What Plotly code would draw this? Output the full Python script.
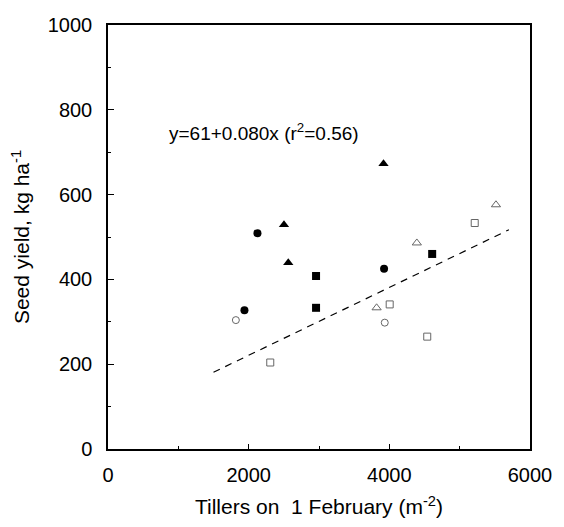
import plotly.graph_objects as go

# Data
filled_tri_x = [3917, 2502, 2563]
filled_tri_y = [673, 529, 439]
filled_circ_x = [2125, 1940, 3925]
filled_circ_y = [509, 327, 425]
filled_sq_x = [2958, 2958, 4609]
filled_sq_y = [408, 333, 460]
open_tri_x = [5516, 4391, 3819]
open_tri_y = [576, 486, 333]
open_sq_x = [5214, 4005, 4539, 2307]
open_sq_y = [533, 341, 265, 204]
open_circ_x = [1818, 3935]
open_circ_y = [304, 298]

fit_intercept = 61
fit_slope = 0.080
fit_x = [1500, 5700]
fit_y = [fit_intercept + fit_slope * v for v in fit_x]

x_ticks = [0, 2000, 4000, 6000]
y_ticks = [0, 200, 400, 600, 800, 1000]

FONT = "Liberation Sans, Arial, sans-serif"

fig = go.Figure()

fig.add_trace(go.Scatter(x=fit_x, y=fit_y, mode="lines",
                         line=dict(color="black", width=1.2, dash="7px,6px"),
                         showlegend=False, hoverinfo="skip"))

def add_pts(x, y, symbol, size, color, lw=0, lc="black"):
    fig.add_trace(go.Scatter(x=x, y=y, mode="markers",
                             marker=dict(symbol=symbol, size=size, color=color,
                                         line=dict(width=lw, color=lc)),
                             showlegend=False))

add_pts(filled_tri_x, filled_tri_y, "triangle-up", 9, "black")
add_pts(filled_circ_x, filled_circ_y, "circle", 8, "black")
add_pts(filled_sq_x, filled_sq_y, "square", 8, "black")
add_pts(open_tri_x, open_tri_y, "triangle-up-open", 8, "#666", 1, "#666")
add_pts(open_sq_x, open_sq_y, "square-open", 7, "#666", 1, "#666")
add_pts(open_circ_x, open_circ_y, "circle-open", 7, "#666", 1, "#666")

fig.add_annotation(x=837, y=748, xref="x", yref="y", xanchor="left", yanchor="middle",
                   text="y=61+0.080x (r<sup>2</sup>=0.56)", showarrow=False,
                   font=dict(family=FONT, size=19, color="black"))

fig.update_layout(
    width=564, height=527,
    margin=dict(l=108, r=26, t=25, b=77),
    paper_bgcolor="white", plot_bgcolor="white",
    font=dict(family=FONT, size=20, color="black"),
    showlegend=False,
)

fig.update_xaxes(range=[0, 6000], tickvals=x_ticks, ticktext=[str(v) for v in x_ticks],
                 ticks="inside", ticklen=5, tickwidth=1, tickcolor="black",
                 minor=dict(dtick=1000, ticks="inside", ticklen=3, tickcolor="black"),
                 showline=True, linecolor="black", linewidth=1.5, mirror=True,
                 showgrid=False, zeroline=False, ticklabelstandoff=7,
                 tickfont=dict(family=FONT, size=20),
                 title=dict(text="Tillers on  1 February (m<sup>-2</sup>)", standoff=15,
                            font=dict(family=FONT, size=21)))
fig.update_yaxes(range=[0, 1000], tickvals=y_ticks, ticktext=[str(v) for v in y_ticks],
                 ticks="inside", ticklen=6, tickwidth=1, tickcolor="black",
                 minor=dict(dtick=100, ticks="inside", ticklen=3, tickcolor="black"),
                 showline=True, linecolor="black", linewidth=1.5, mirror=True,
                 showgrid=False, zeroline=False, ticklabelstandoff=10,
                 tickfont=dict(family=FONT, size=20),
                 title=dict(text="Seed yield, kg ha<sup>-1</sup>", standoff=12,
                            font=dict(family=FONT, size=21)))

fig.write_html("out.html", config={"displayModeBar": False},
               post_script="document.body.style.margin='0';")
